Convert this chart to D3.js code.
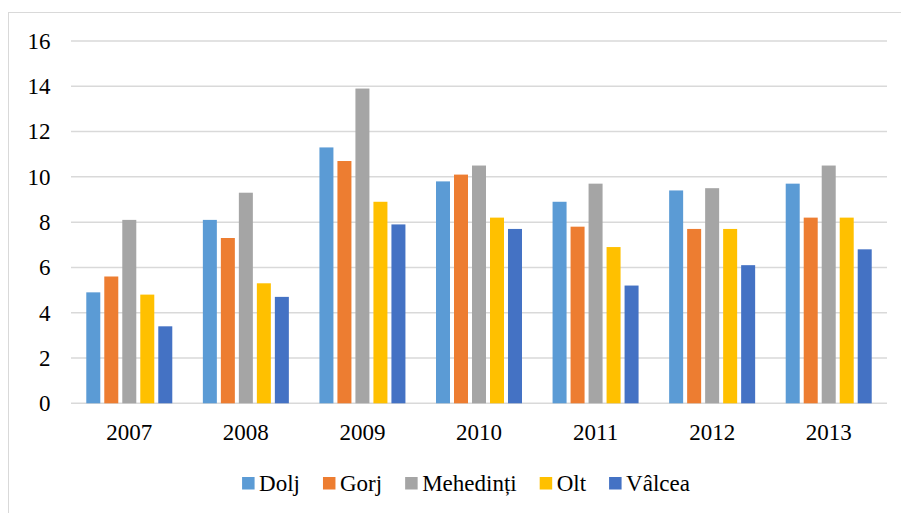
<!DOCTYPE html>
<html>
<head>
<meta charset="utf-8">
<script src="https://cdn.jsdelivr.net/npm/d3@7"></script>
<style>
  html, body { margin: 0; padding: 0; background: #fff; }
  svg { display: block; }
</style>
</head>
<body>
<svg id="chart" width="901" height="513" font-family="Liberation Serif"></svg>
<script>
const years = ["2007", "2008", "2009", "2010", "2011", "2012", "2013"];
const seriesNames = ["Dolj", "Gorj", "Mehedinți", "Olt", "Vâlcea"];
const colors = ["#5B9BD5", "#ED7D31", "#A5A5A5", "#FFC000", "#4472C4"];
const dolj      = [4.9, 8.1, 11.3, 9.8, 8.9, 9.4, 9.7];
const gorj      = [5.6, 7.3, 10.7, 10.1, 7.8, 7.7, 8.2];
const mehedinti = [8.1, 9.3, 13.9, 10.5, 9.7, 9.5, 10.5];
const olt       = [4.8, 5.3, 8.9, 8.2, 6.9, 7.7, 8.2];
const valcea    = [3.4, 4.7, 7.9, 7.7, 5.2, 6.1, 6.8];
const yTicks = [0, 2, 4, 6, 8, 10, 12, 14, 16];

const seriesValues = [dolj, gorj, mehedinti, olt, valcea];
const FONT = "Liberation Serif";
const FS = 23;

const svg = d3.select("#chart");

// chart border
svg.append("rect")
  .attr("x", 8.5).attr("y", 12.5)
  .attr("width", 940).attr("height", 540)
  .attr("fill", "none").attr("stroke", "#d9d9d9").attr("stroke-width", 1);

const plot = { left: 71, right: 887, top: 41, bottom: 403.3 };

const x0 = d3.scaleBand().domain(years).range([plot.left, plot.right]).paddingInner(0).paddingOuter(0);
const groupW = 86;
const x1 = d3.scaleBand().domain(seriesNames).range([0, groupW]).paddingInner(4 / 18).paddingOuter(0);
const y = d3.scaleLinear().domain([0, 16]).range([plot.bottom, plot.top]);

// gridlines
svg.append("g").selectAll("line").data(yTicks).join("line")
  .attr("x1", plot.left).attr("x2", plot.right)
  .attr("y1", d => y(d)).attr("y2", d => y(d))
  .attr("stroke", "#d9d9d9").attr("stroke-width", 1.5);

// y labels
svg.append("g").selectAll("text").data(yTicks).join("text")
  .attr("x", 50.5).attr("y", d => y(d))
  .attr("dy", "0.34em")
  .attr("text-anchor", "end")
  .attr("font-size", FS)
  .attr("font-family", FONT)
  .attr("fill", "#000")
  .text(d => d);

// bars
const groups = svg.append("g").selectAll("g").data(years).join("g")
  .attr("transform", d => `translate(${x0(d) + (x0.bandwidth() - groupW) / 2},0)`);

groups.selectAll("rect")
  .data((yr, i) => seriesNames.map((s, k) => ({ s, k, v: seriesValues[k][i] })))
  .join("rect")
  .attr("x", d => x1(d.s))
  .attr("width", x1.bandwidth())
  .attr("y", d => y(d.v))
  .attr("height", d => y(0) - y(d.v))
  .attr("fill", d => colors[d.k]);

// x labels
svg.append("g").selectAll("text").data(years).join("text")
  .attr("x", d => x0(d) + x0.bandwidth() / 2)
  .attr("y", 439.5)
  .attr("text-anchor", "middle")
  .attr("font-size", FS)
  .attr("font-family", FONT)
  .attr("fill", "#000")
  .text(d => d);

// legend
const legend = svg.append("g");
const items = legend.selectAll("g").data(seriesNames).join("g");
items.append("rect")
  .attr("width", 12.5).attr("height", 12.5)
  .attr("y", 477)
  .attr("fill", (d, i) => colors[i]);
items.append("text")
  .attr("x", 17).attr("y", 490.5)
  .attr("font-size", FS)
  .attr("font-family", FONT)
  .attr("fill", "#000")
  .text(d => d);
const gap = 23;
const widths = items.nodes().map(n => 17 + d3.select(n).select("text").node().getComputedTextLength());
const total = d3.sum(widths) + gap * (widths.length - 1);
let start = 466 - total / 2;
items.attr("transform", (d, i) => {
  const xx = start;
  start += widths[i] + gap;
  return `translate(${xx},0)`;
});
</script>
</body>
</html>
